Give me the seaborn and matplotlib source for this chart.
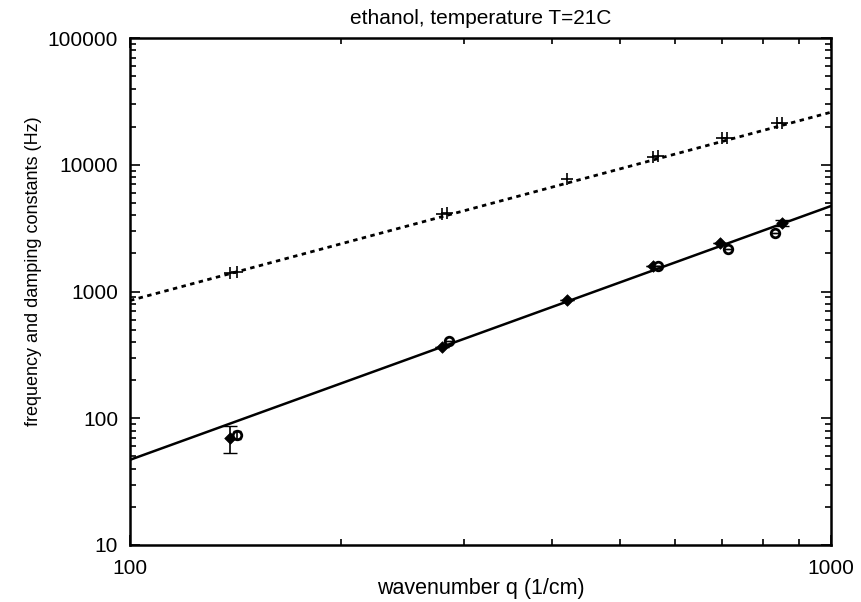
import numpy as np
import pandas as pd
import seaborn as sns
from matplotlib import pyplot as plt
from matplotlib import ticker

# frequency (plus markers), two runs at slightly different q
freq_q_a = [139, 279, 420, 557, 699, 838]
freq_a = [1410, 4120, 7730, 11550, 16200, 21300]
freq_q_b = [142, 283, 566, 710, 851]
freq_b = [1420, 4180, 11700, 16300, 21400]

# damping constants
damp_q_a = [139, 279, 420, 557, 695, 851]
damp_a = [70, 365, 850, 1590, 2420, 3470]
damp_err_a = [17, 0, 0, 0, 0, 180]
damp_q_b = [142, 285, 566, 713, 832]
damp_b = [74, 406, 1600, 2160, 2890]
damp_err_b = [6, 0, 0, 0, 0]

# fitted power laws (end points of the straight lines in log-log)
fit_q = [100, 1000]
fit_freq = [850, 26000]
fit_damp = [47, 4730]

sns.set_style("ticks", {"text.color": "black", "axes.labelcolor": "black",
                        "xtick.color": "black", "ytick.color": "black",
                        "axes.edgecolor": "black"})
plt.rcParams["font.family"] = ["Liberation Sans", "DejaVu Sans"]

fig = plt.figure(figsize=(8.61, 6.02), dpi=100)
ax = fig.add_axes([0.151, 0.0947, 0.814, 0.842])

fit = pd.DataFrame({"q": fit_q, "freq": fit_freq, "damp": fit_damp})
sns.lineplot(fit, x="q", y="freq", color="black", lw=2, ls=(0, (1.6, 1.6)), ax=ax)
sns.lineplot(fit, x="q", y="damp", color="black", lw=1.8, ax=ax)

sns.scatterplot(x=freq_q_a, y=freq_a, marker="+", s=65, color="black", linewidth=1.2, ax=ax)
sns.scatterplot(x=freq_q_b, y=freq_b, marker="+", s=65, color="black", linewidth=1.2, ax=ax)
sns.scatterplot(x=damp_q_a, y=damp_a, marker="D", s=35, color="black", edgecolor="black", ax=ax)
sns.scatterplot(x=damp_q_b, y=damp_b, marker="o", s=38, facecolor="white", edgecolor="black",
                linewidth=2, ax=ax)
ax.errorbar(damp_q_a, damp_a, yerr=damp_err_a, fmt="none", ecolor="black", elinewidth=1.2, capsize=5)
ax.errorbar(damp_q_b, damp_b, yerr=damp_err_b, fmt="none", ecolor="black", elinewidth=1.2, capsize=3)

ax.set(xscale="log", yscale="log", xlim=(100, 1000), ylim=(10, 100000))
ax.xaxis.set_major_formatter(ticker.FuncFormatter(lambda v, p: f"{v:g}"))
ax.yaxis.set_major_formatter(ticker.FuncFormatter(lambda v, p: f"{v:.0f}"))
ax.xaxis.set_minor_formatter(ticker.NullFormatter())
ax.tick_params(which="both", direction="in", top=True, right=True, labelsize=15, width=1.2,
               color="black", labelcolor="black")
ax.tick_params(which="major", length=7)
ax.tick_params(which="minor", length=4)
ax.tick_params(axis="x", which="major", pad=10)
ax.tick_params(axis="y", which="major", pad=8.5)
for s in ax.spines.values():
    s.set_linewidth(1.8)
    s.set_color("black")

ax.set_xlabel("wavenumber q (1/cm)", fontsize=15.5, color="black")
ax.xaxis.set_label_coords(0.5, -0.065)
ax.set_ylabel("frequency and damping constants (Hz)", fontsize=13, color="black")
ax.yaxis.set_label_coords(-0.125, 0.54)
ax.set_title("ethanol, temperature T=21C", fontsize=15, pad=10, color="black")

fig.savefig("out.png", dpi=100)
